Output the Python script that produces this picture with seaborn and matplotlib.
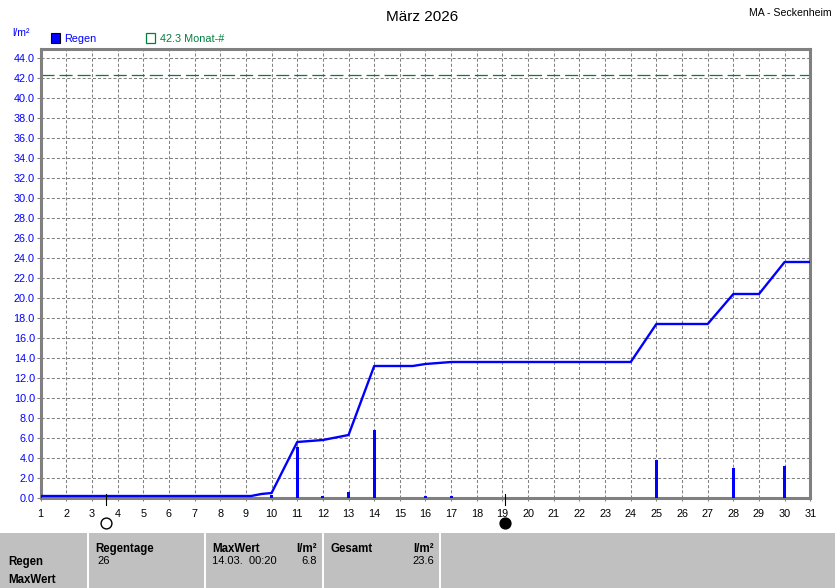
import matplotlib
matplotlib.use("Agg")
import matplotlib.pyplot as plt
import seaborn as sns
import pandas as pd
from matplotlib.patches import Rectangle
from matplotlib.lines import Line2D

# ---------------- data ----------------
title = "März 2026"
station = "MA - Seckenheim"
unit = "l/m²"
days = list(range(1, 32))
bar_days = [1, 10, 11, 12, 13, 14, 16, 17, 25, 28, 30]
bar_rain = [0.2, 0.3, 5.1, 0.2, 0.6, 6.8, 0.2, 0.2, 3.8, 3.0, 3.2]
cum_x = [1, 9.2, 9.6, 10, 11, 12, 13, 14, 15.5, 16, 16.5, 17, 24, 25, 27, 28, 29, 30, 31]
cum_y = [0.2, 0.2, 0.4, 0.5, 5.6, 5.8, 6.3, 13.2, 13.2, 13.4, 13.5, 13.6, 13.6,
         17.4, 17.4, 20.4, 20.4, 23.6, 23.6]
month_mean = 42.3
y_ticks = [v * 2 for v in range(0, 23)]
full_moon_day = [3.53]
new_moon_day = [19.1]
legend_labels = ["Regen", "42.3 Monat-#"]
row_labels = ["Regen", "MaxWert"]
col_headers = ["Regentage", "MaxWert", "Gesamt"]
regentage = "26"
max_time = "14.03.  00:20"
max_value = "6.8"
total_value = "23.6"

# ---------------- figure ----------------
W, H = 835, 588
plt.rcParams['font.family'] = ['Liberation Sans', 'DejaVu Sans']
plt.rcParams['lines.scale_dashes'] = False
fig = plt.figure(figsize=(W / 100, H / 100), dpi=100)
fig.patch.set_facecolor('white')

def fx(x):
    return x / W

def fy(y):
    return 1 - y / H

ax_l, ax_r, ax_t, ax_b = 40.7, 810.3, 48.5, 498.0
ax = fig.add_axes([fx(ax_l), fy(ax_b), (ax_r - ax_l) / W, (ax_b - ax_t) / H])

blue = '#0000FF'
green = '#00803F'
grey = '#808080'

df_bar = pd.DataFrame({'day': bar_days, 'rain': bar_rain})
sns.barplot(data=df_bar, x='day', y='rain', native_scale=True, width=0.11,
            color=blue, saturation=1, ax=ax, linewidth=0, zorder=3)

df_cum = pd.DataFrame({'t': cum_x, 'sum': cum_y})
sns.lineplot(data=df_cum, x='t', y='sum', color=blue, lw=1.7, ax=ax, zorder=4)

ax.axhline(month_mean, color=green, lw=0.9, linestyle=(0, (9.4, 3.6)), zorder=2)

ax.set_xlim(1, 31)
ax.set_ylim(0, 44.95)
ax.set_xticks(days)
ax.set_xticklabels([str(d) for d in days])
ax.set_yticks(y_ticks)
ax.set_yticklabels([f"{v:.1f}" for v in y_ticks])
ax.set_xlabel('')
ax.set_ylabel('')
ax.grid(True, color=grey, lw=0.75, linestyle=(0, (2.2, 1.5)), zorder=1)
ax.set_axisbelow(True)
for s in ax.spines.values():
    s.set_color(grey)
    s.set_linewidth(2.2)
ax.tick_params(axis='x', length=2.5, width=0.75, color=grey, pad=5.5,
               labelsize=7.8, labelcolor='black')
ax.tick_params(axis='y', length=3, width=0.75, color=grey, pad=1.2,
               labelsize=7.8, labelcolor=blue)

# moon phase markers
for d in full_moon_day:
    ax.plot([d, d], [0.4, -0.7], color='black', lw=0.8, clip_on=False, zorder=5)
    ax.plot([d], [-2.53], marker='o', ms=7.8, mfc='white', mec='black', mew=1.0,
            clip_on=False, zorder=5)
for d in new_moon_day:
    ax.plot([d, d], [0.4, -0.7], color='black', lw=0.8, clip_on=False, zorder=5)
    ax.plot([d], [-2.53], marker='o', ms=7.8, mfc='black', mec='black', mew=1.0,
            clip_on=False, zorder=5)

# header texts
fig.text(fx(422), fy(21), title, ha='center', va='baseline', fontsize=11, color='black')
fig.text(fx(832), fy(16), station, ha='right', va='baseline', fontsize=7.6, color='black')
fig.text(fx(12), fy(36.5), unit, ha='left', va='baseline', fontsize=7.6, color=blue)

# legend
fig.add_artist(Rectangle((fx(50.5), fy(42.5)), 9.5 / W, 9.5 / H, transform=fig.transFigure,
                         facecolor=blue, edgecolor='black', lw=0.8))
fig.text(fx(64.5), fy(41.5), legend_labels[0], ha='left', va='baseline', fontsize=7.8, color=blue)
fig.add_artist(Rectangle((fx(145.5), fy(42.5)), 9.5 / W, 9.5 / H, transform=fig.transFigure,
                         facecolor='white', edgecolor=green, lw=0.9))
fig.text(fx(159.5), fy(41.5), legend_labels[1], ha='left', va='baseline', fontsize=7.8, color=green)

# bottom table panel
fig.add_artist(Rectangle((0, 0), 1, fy(533), transform=fig.transFigure,
                         facecolor='#C0C0C0', edgecolor='none'))
for xs in [87.5, 205, 322.5, 440.5]:
    fig.add_artist(Line2D([fx(xs), fx(xs)], [0, fy(533)], transform=fig.transFigure,
                          color='white', lw=1.4))

bk = dict(va='baseline', fontsize=8.3, fontweight='bold', color='black')
nk = dict(va='baseline', fontsize=8.0, color='black')
fig.text(fx(8), fy(565.5), row_labels[0], ha='left', **bk)
fig.text(fx(8), fy(583), row_labels[1], ha='left', **bk)
fig.text(fx(95), fy(552), col_headers[0], ha='left', **bk)
fig.text(fx(97), fy(563.5), regentage, ha='left', **nk)
fig.text(fx(212.5), fy(552), col_headers[1], ha='left', **bk)
fig.text(fx(316.5), fy(552), unit, ha='right', **bk)
fig.text(fx(212.5), fy(563.5), max_time, ha='left', **nk)
fig.text(fx(316.5), fy(563.5), max_value, ha='right', **nk)
fig.text(fx(330.5), fy(552), col_headers[2], ha='left', **bk)
fig.text(fx(434), fy(552), unit, ha='right', **bk)
fig.text(fx(434), fy(563.5), total_value, ha='right', **nk)

fig.savefig('out.png', dpi=100)
